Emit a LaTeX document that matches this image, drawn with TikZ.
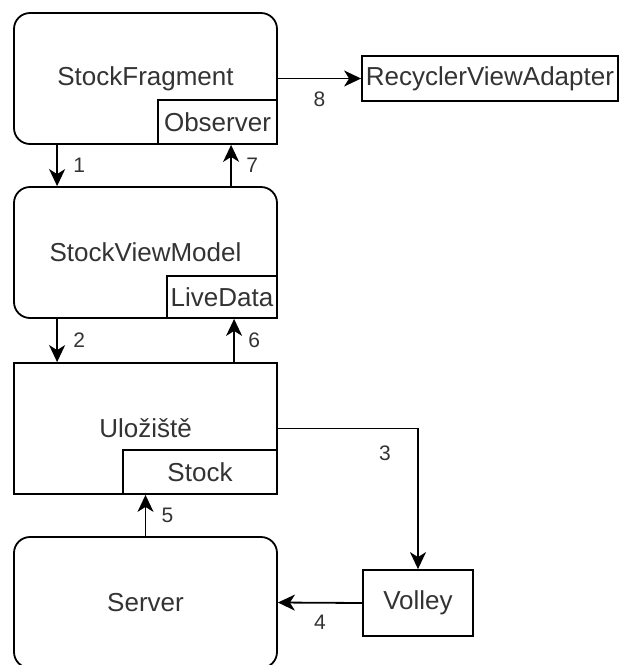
\documentclass[tikz,border=0pt]{standalone}
\usepackage{fontspec}
\setmainfont{Liberation Sans}
\usetikzlibrary{arrows.meta}

\begin{document}
\begin{tikzpicture}[x=1pt, y=-1pt, line width=1.8pt,
    box/.style={draw, fill=white, minimum width=263pt, minimum height=131pt,
        font=\fontsize{26}{30}\selectfont, text=black!80},
    roundbox/.style={box, rounded corners=16pt},
    part/.style={draw, fill=white, anchor=south east, minimum height=44pt,
        inner sep=0pt, font=\fontsize{26}{30}\selectfont, text=black!80},
    flow/.style={-{Stealth[length=17pt, width=16pt, inset=5pt]}},
    num/.style={font=\fontsize{21}{24}\selectfont, text=black!80}]
    \useasboundingbox (0,0) rectangle (619,665);
    \clip (0,0) rectangle (619,665);

    % layers
    \node[roundbox] (frag) at (145.5,78.5) {StockFragment};
    \node[part, minimum width=119pt] (obs) at (frag.south east) {Observer};
    \node[roundbox] (vm) at (145.5,252.5) {StockViewModel};
    \node[part, minimum width=110pt, minimum height=42pt] (live) at (vm.south east) {LiveData};
    \node[box] (repo) at (145.5,428.5) {Uložiště};
    \node[part, minimum width=154pt] (stock) at (repo.south east) {Stock};
    \node[roundbox] (server) at (145.5,602.5) {Server};

    % side boxes
    \node[box, minimum width=110pt, minimum height=66pt] (volley) at (418,603) {Volley};
    \node[box, minimum width=256pt, minimum height=45pt] (adapter) at (490,78.5) {RecyclerViewAdapter};

    % calls down
    \draw[flow] ([xshift=44pt]frag.south west) -- ([xshift=44pt]vm.north west)
        node[num, midway, xshift=22pt] {1};
    \draw[flow] ([xshift=44pt]vm.south west) -- ([xshift=44pt]repo.north west)
        node[num, midway, xshift=22pt] {2};
    \draw[flow] (repo.east) -| (volley.north)
        node[num, pos=0.5, xshift=-33pt, yshift=-25pt] {3};
    \draw[flow] (volley.west) -- (server.east)
        node[num, midway, yshift=-20pt] {4};

    % data back up
    \draw[flow] (server.north) -- (repo.south)
        node[num, midway, xshift=22pt] {5};
    \draw[flow] ([xshift=221pt]repo.north west) -- ([xshift=221pt]vm.south west)
        node[num, midway, xshift=20pt] {6};
    \draw[flow] ([xshift=218pt]vm.north west) -- ([xshift=218pt]frag.south west)
        node[num, midway, xshift=21pt] {7};
    \draw[flow] (frag.east) -- (adapter.west)
        node[num, midway, yshift=-21pt] {8};
\end{tikzpicture}
\end{document}
